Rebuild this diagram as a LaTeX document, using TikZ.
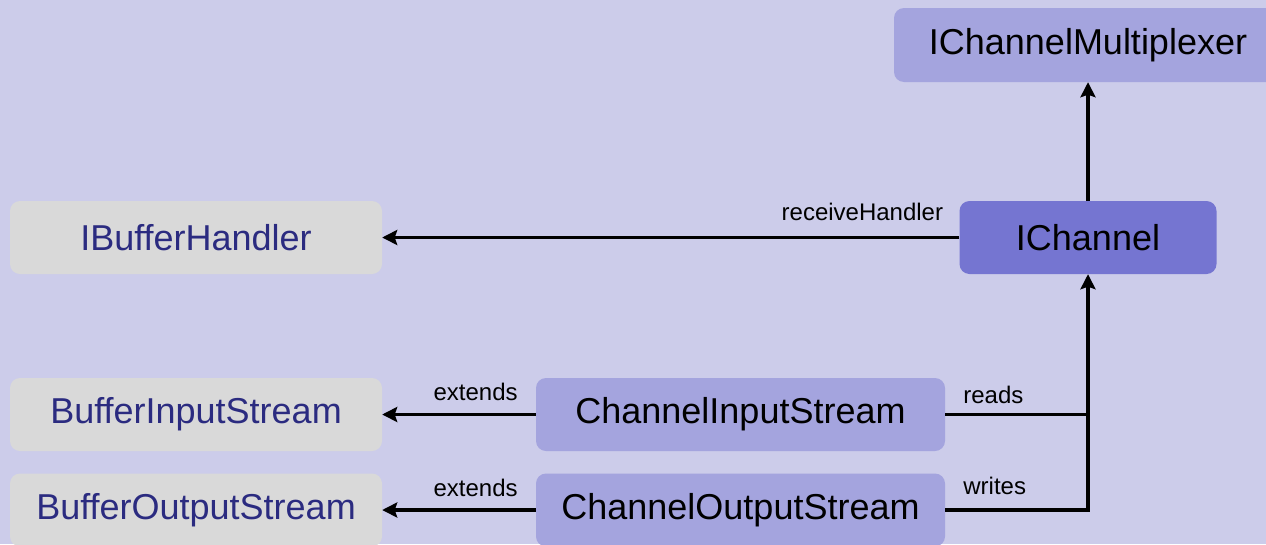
\documentclass[tikz,border=0pt]{standalone}
\usepackage{fontspec}
\setmainfont{Liberation Sans}
\usetikzlibrary{arrows.meta}
\definecolor{bgc}{RGB}{204,204,234}
\definecolor{midc}{RGB}{164,164,222}
\definecolor{darkc}{RGB}{117,117,209}
\definecolor{grayc}{RGB}{217,217,217}
\definecolor{navyc}{RGB}{43,43,128}
\tikzset{
  box/.style={rectangle, rounded corners=10pt, inner sep=0pt, minimum height=73pt,
    font=\fontsize{36}{40}\selectfont},
  ibox/.style={box, fill=midc, text=black},
  dbox/.style={box, fill=darkc, text=black},
  gbox/.style={box, fill=grayc, text=navyc},
  conn/.style={line width=3.2pt, -{Stealth[length=15pt,width=15pt,inset=2.5pt]}},
  plain/.style={line width=3.2pt},
  lbl/.style={inner sep=0pt, font=\fontsize{24}{28}\selectfont, text=black}
}
\begin{document}
\begin{tikzpicture}[x=1pt,y=-1pt]
\fill[bgc] (0,0) rectangle (1266,544);
\useasboundingbox (0,0) rectangle (1266,544);
\node[ibox, minimum width=388pt, minimum height=74pt] (mux) at (1088,45) {IChannelMultiplexer};
\node[dbox, minimum width=257pt] (ich) at (1088,237.5) {IChannel};
\node[gbox, minimum width=372pt] (ibh) at (196,237.5) {IBufferHandler};
\node[gbox, minimum width=372pt] (bis) at (196,414.5) {BufferInputStream};
\node[gbox, minimum width=372pt] (bos) at (196,510) {BufferOutputStream};
\node[ibox, minimum width=409pt] (cis) at (740.5,414.5) {ChannelInputStream};
\node[ibox, minimum width=409pt] (cos) at (740.5,510) {ChannelOutputStream};

\draw[conn] (ich.north) -- (mux.south);
\draw[conn] (ich.west) -- (ibh.east);
\draw[conn] (cis.west) -- (bis.east);
\draw[conn] (cos.west) -- (bos.east);
\draw[plain] (cis.east) -- (cis.east -| ich.south);
\draw[conn] (cos.east) -| (ich.south);

\node[lbl, anchor=base east] (lrh) at ([xshift=-16pt,yshift=17pt]ich.west) {receiveHandler};
\node[lbl, anchor=base east] (le1) at ([xshift=-18pt,yshift=14pt]cis.west) {extends};
\node[lbl, anchor=base east] (le2) at ([xshift=-18pt,yshift=14pt]cos.west) {extends};
\node[lbl, anchor=base west] (lrd) at ([xshift=18pt,yshift=11pt]cis.east) {reads};
\node[lbl, anchor=base west] (lwr) at ([xshift=18pt,yshift=16pt]cos.east) {writes};
\end{tikzpicture}
\end{document}
